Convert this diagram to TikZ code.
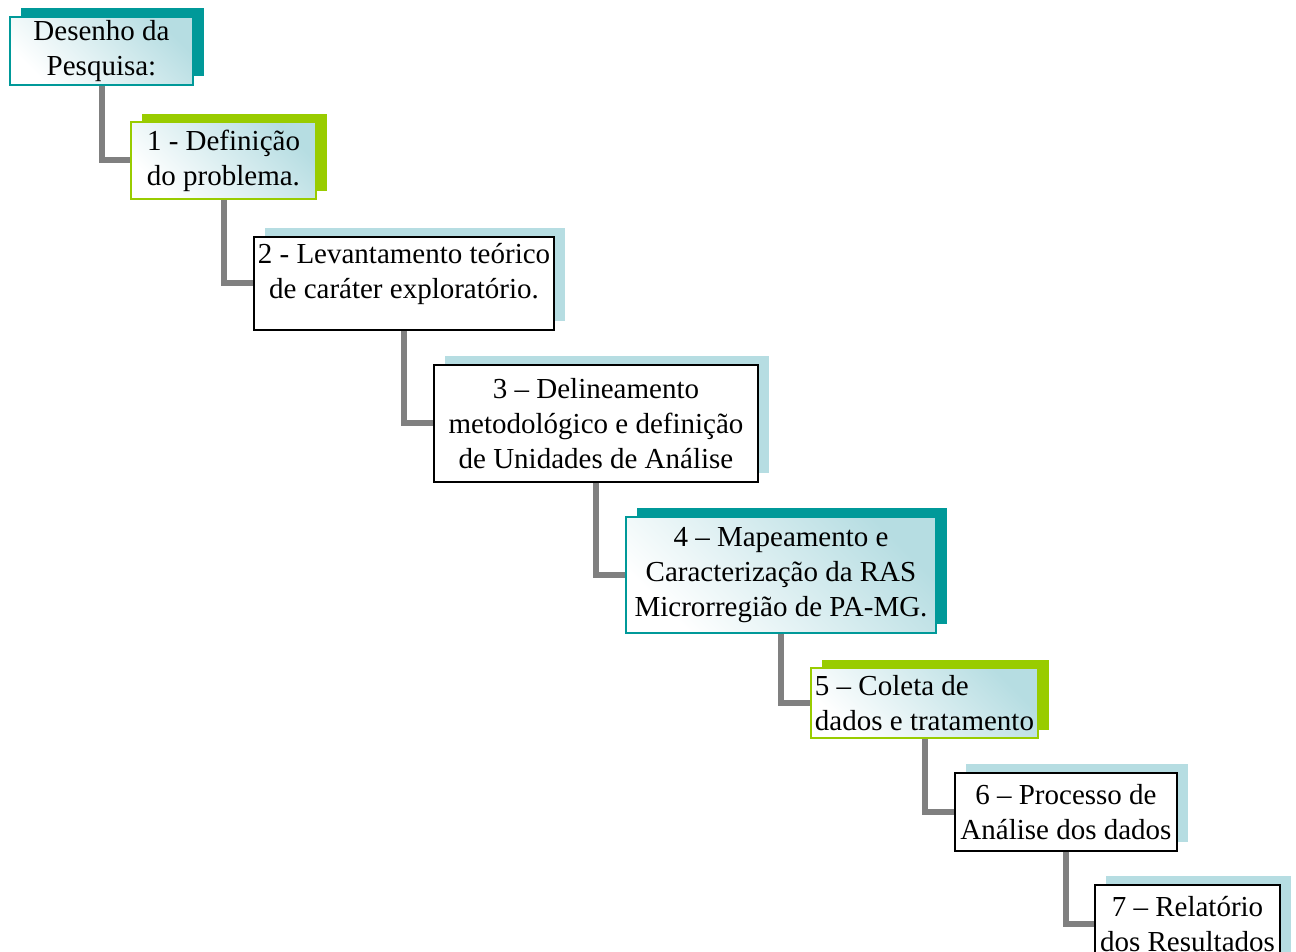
\documentclass[tikz,border=0pt]{standalone}
\usepackage{fontspec}
\setmainfont{Liberation Serif}
\usetikzlibrary{shadows}
\definecolor{tealc}{RGB}{0,153,153}
\definecolor{greenc}{RGB}{153,204,0}
\definecolor{lblue}{RGB}{182,221,226}
\definecolor{linkgray}{RGB}{128,128,128}
\tikzset{
  box/.style={draw, line width=1pt, inner sep=0pt, align=center,
    font=\fontsize{14.5}{17.5}\selectfont},
  shaded box/.style={box, top color=lblue, bottom color=white, shading angle=-45},
  tealbox/.style={shaded box, draw=tealc,
    general shadow={fill=tealc, shadow xshift=5.25pt, shadow yshift=4.25pt}},
  greenbox/.style={shaded box, draw=greenc,
    general shadow={fill=greenc, shadow xshift=5.5pt, shadow yshift=4pt}},
  plainbox/.style={box, draw=black, fill=white,
    general shadow={fill=lblue, shadow xshift=5.25pt, shadow yshift=4.5pt}}
}
\begin{document}
\begin{tikzpicture}[x=0.5pt, y=0.5pt]
      \useasboundingbox (0,0) rectangle (1296,952);
      \draw
        (101.5,901) node[tealbox, minimum width=91.5pt, minimum height=34pt] (0)
          {Desenho da\\Pesquisa:}
        (223.5,791.5) node[greenbox, minimum width=92.5pt, minimum height=38.5pt] (1)
          {1 - Definição\\do problema.}
        (404,668.5) node[plainbox, minimum width=150pt, minimum height=46.5pt] (2)
          {2 - Levantamento teórico\\de caráter exploratório.\rule[-13pt]{0pt}{1pt}}
        (596,528.5) node[plainbox, minimum width=162pt, minimum height=58.5pt] (3)
          {3 – Delineamento\\metodológico e definição\\de Unidades de Análise}
        (781,377) node[tealbox, minimum width=155pt, minimum height=58pt] (4)
          {4 – Mapeamento e\\Caracterização da RAS\\Microrregião de PA-MG.}
        (924.5,249) node[greenbox, align=left, minimum width=113.5pt, minimum height=35pt] (5)
          {5 – Coleta de\\dados e tratamento}
        (1066,140) node[plainbox, minimum width=111pt, minimum height=39pt] (6)
          {6 – Processo de\\Análise dos dados}
        (1187.5,28) node[plainbox, minimum width=92.5pt, minimum height=39pt] (7)
          {7 – Relatório\\dos Resultados};
      \begin{scope}[line width=3pt, draw=linkgray]
        \draw (0) |- (1);
        \draw (1) |- (2);
        \draw (2) |- (3);
        \draw (3) |- (4);
        \draw (4) |- (5);
        \draw (5) |- (6);
        \draw (6) |- (7);
      \end{scope}
    \end{tikzpicture}
\end{document}
